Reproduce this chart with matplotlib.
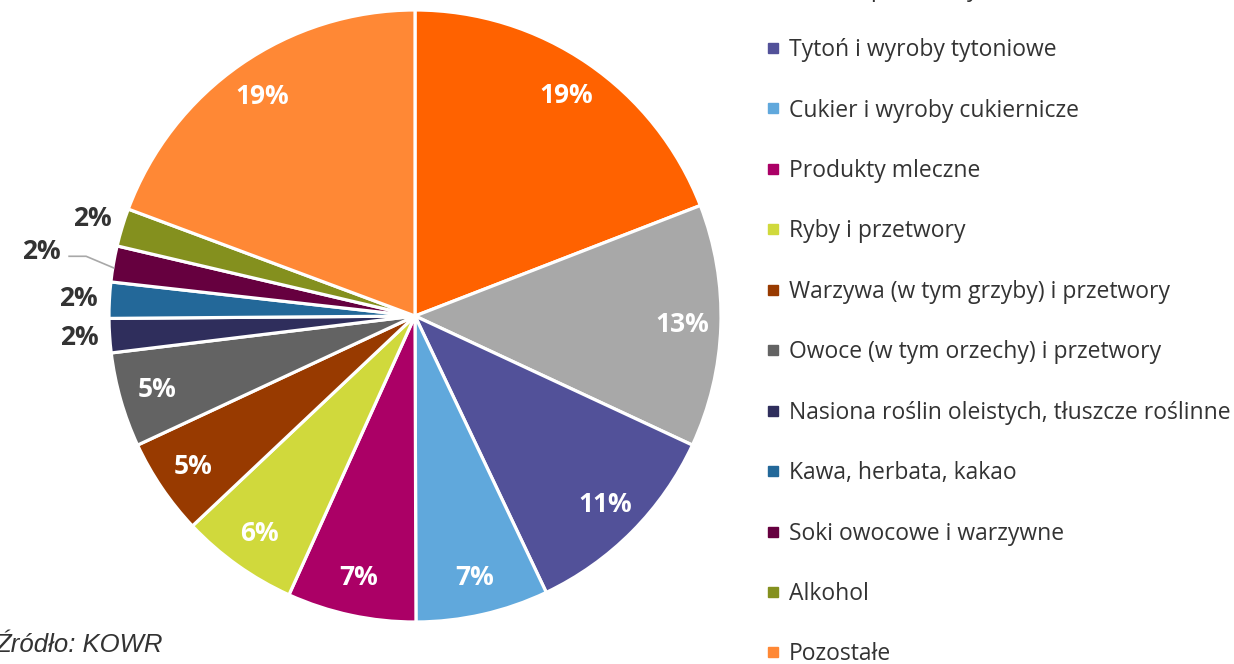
import numpy as np
import matplotlib.pyplot as plt
from matplotlib.lines import Line2D

# Struktura eksportu rolno-spożywczego (%)
categories = ['Mięso i podroby jadalne', 'Zboża i przetwory zbożowe',
              'Tytoń i wyroby tytoniowe', 'Cukier i wyroby cukiernicze',
              'Produkty mleczne', 'Ryby i przetwory',
              'Warzywa (w tym grzyby) i przetwory', 'Owoce (w tym orzechy) i przetwory',
              'Nasiona roślin oleistych, tłuszcze roślinne', 'Kawa, herbata, kakao',
              'Soki owocowe i warzywne', 'Alkohol', 'Pozostałe']
shares = [19.1, 12.8, 11.0, 7.0, 6.8, 6.2, 5.1, 5.0, 1.8, 1.9, 1.9, 2.0, 19.3]
colors = ['#FF6200', '#A8A8A8', '#525199', '#60A8DC', '#AB0066', '#D0D93C',
          '#983A00', '#636363', '#2F2E5C', '#236899', '#66003F', '#84901E', '#FF8835']
outside = [False] * 8 + [True] * 4 + [False]

plt.rcParams['font.family'] = ['Open Sans', 'DejaVu Sans']

fig = plt.figure(figsize=(12.34, 6.64), dpi=100)
ax = fig.add_axes([0, 0, 1, 1])

cx, cy, R = 415, 348, 306
wedges, _ = ax.pie(shares, colors=colors, startangle=90, counterclock=False,
                   center=(cx, cy), radius=R, frame=True,
                   wedgeprops=dict(edgecolor='white', linewidth=2.3))
ax.set_xlim(0, 1234)
ax.set_ylim(0, 664)
ax.axis('off')

for i, w in enumerate(wedges):
    mid = np.deg2rad((w.theta1 + w.theta2) / 2)
    lab = f'{round(shares[i])}%'
    if not outside[i]:
        r = 0.875 * R
        ax.text(cx + r * np.cos(mid), cy + r * np.sin(mid), lab, color='white',
                fontsize=19, fontweight='bold', ha='center', va='center')
    else:
        r = 1.24 * R if i == 10 else 1.1 * R
        tx, ty = cx + r * np.cos(mid), cy + r * np.sin(mid)
        ax.text(tx, ty, lab, color='#333333', fontsize=19, fontweight='bold',
                ha='center', va='center')
        if i == 10:
            ex, ey = cx + R * np.cos(mid), cy + R * np.sin(mid)
            ax.plot([tx + 28, tx + 45, ex], [ty - 5, ty - 5, ey - 4],
                    color='#A8A8A8', lw=1.2)

handles = [Line2D([], [], marker='s', linestyle='none', markersize=7,
                  markerfacecolor=c, markeredgecolor=c) for c in colors]
fig.legend(handles, categories, loc='center left', bbox_to_anchor=(0.621, 0.5605),
           frameon=False, fontsize=16.5, labelcolor='#333333', handlelength=0.55,
           handletextpad=0.45, labelspacing=1.59, borderpad=0, borderaxespad=0)

fig.text(-0.004, 0.018, 'Źródło: KOWR', fontsize=18.5, style='italic',
         family='Liberation Sans', color='#333333', ha='left', va='baseline')

fig.savefig('out.png', dpi=100)
